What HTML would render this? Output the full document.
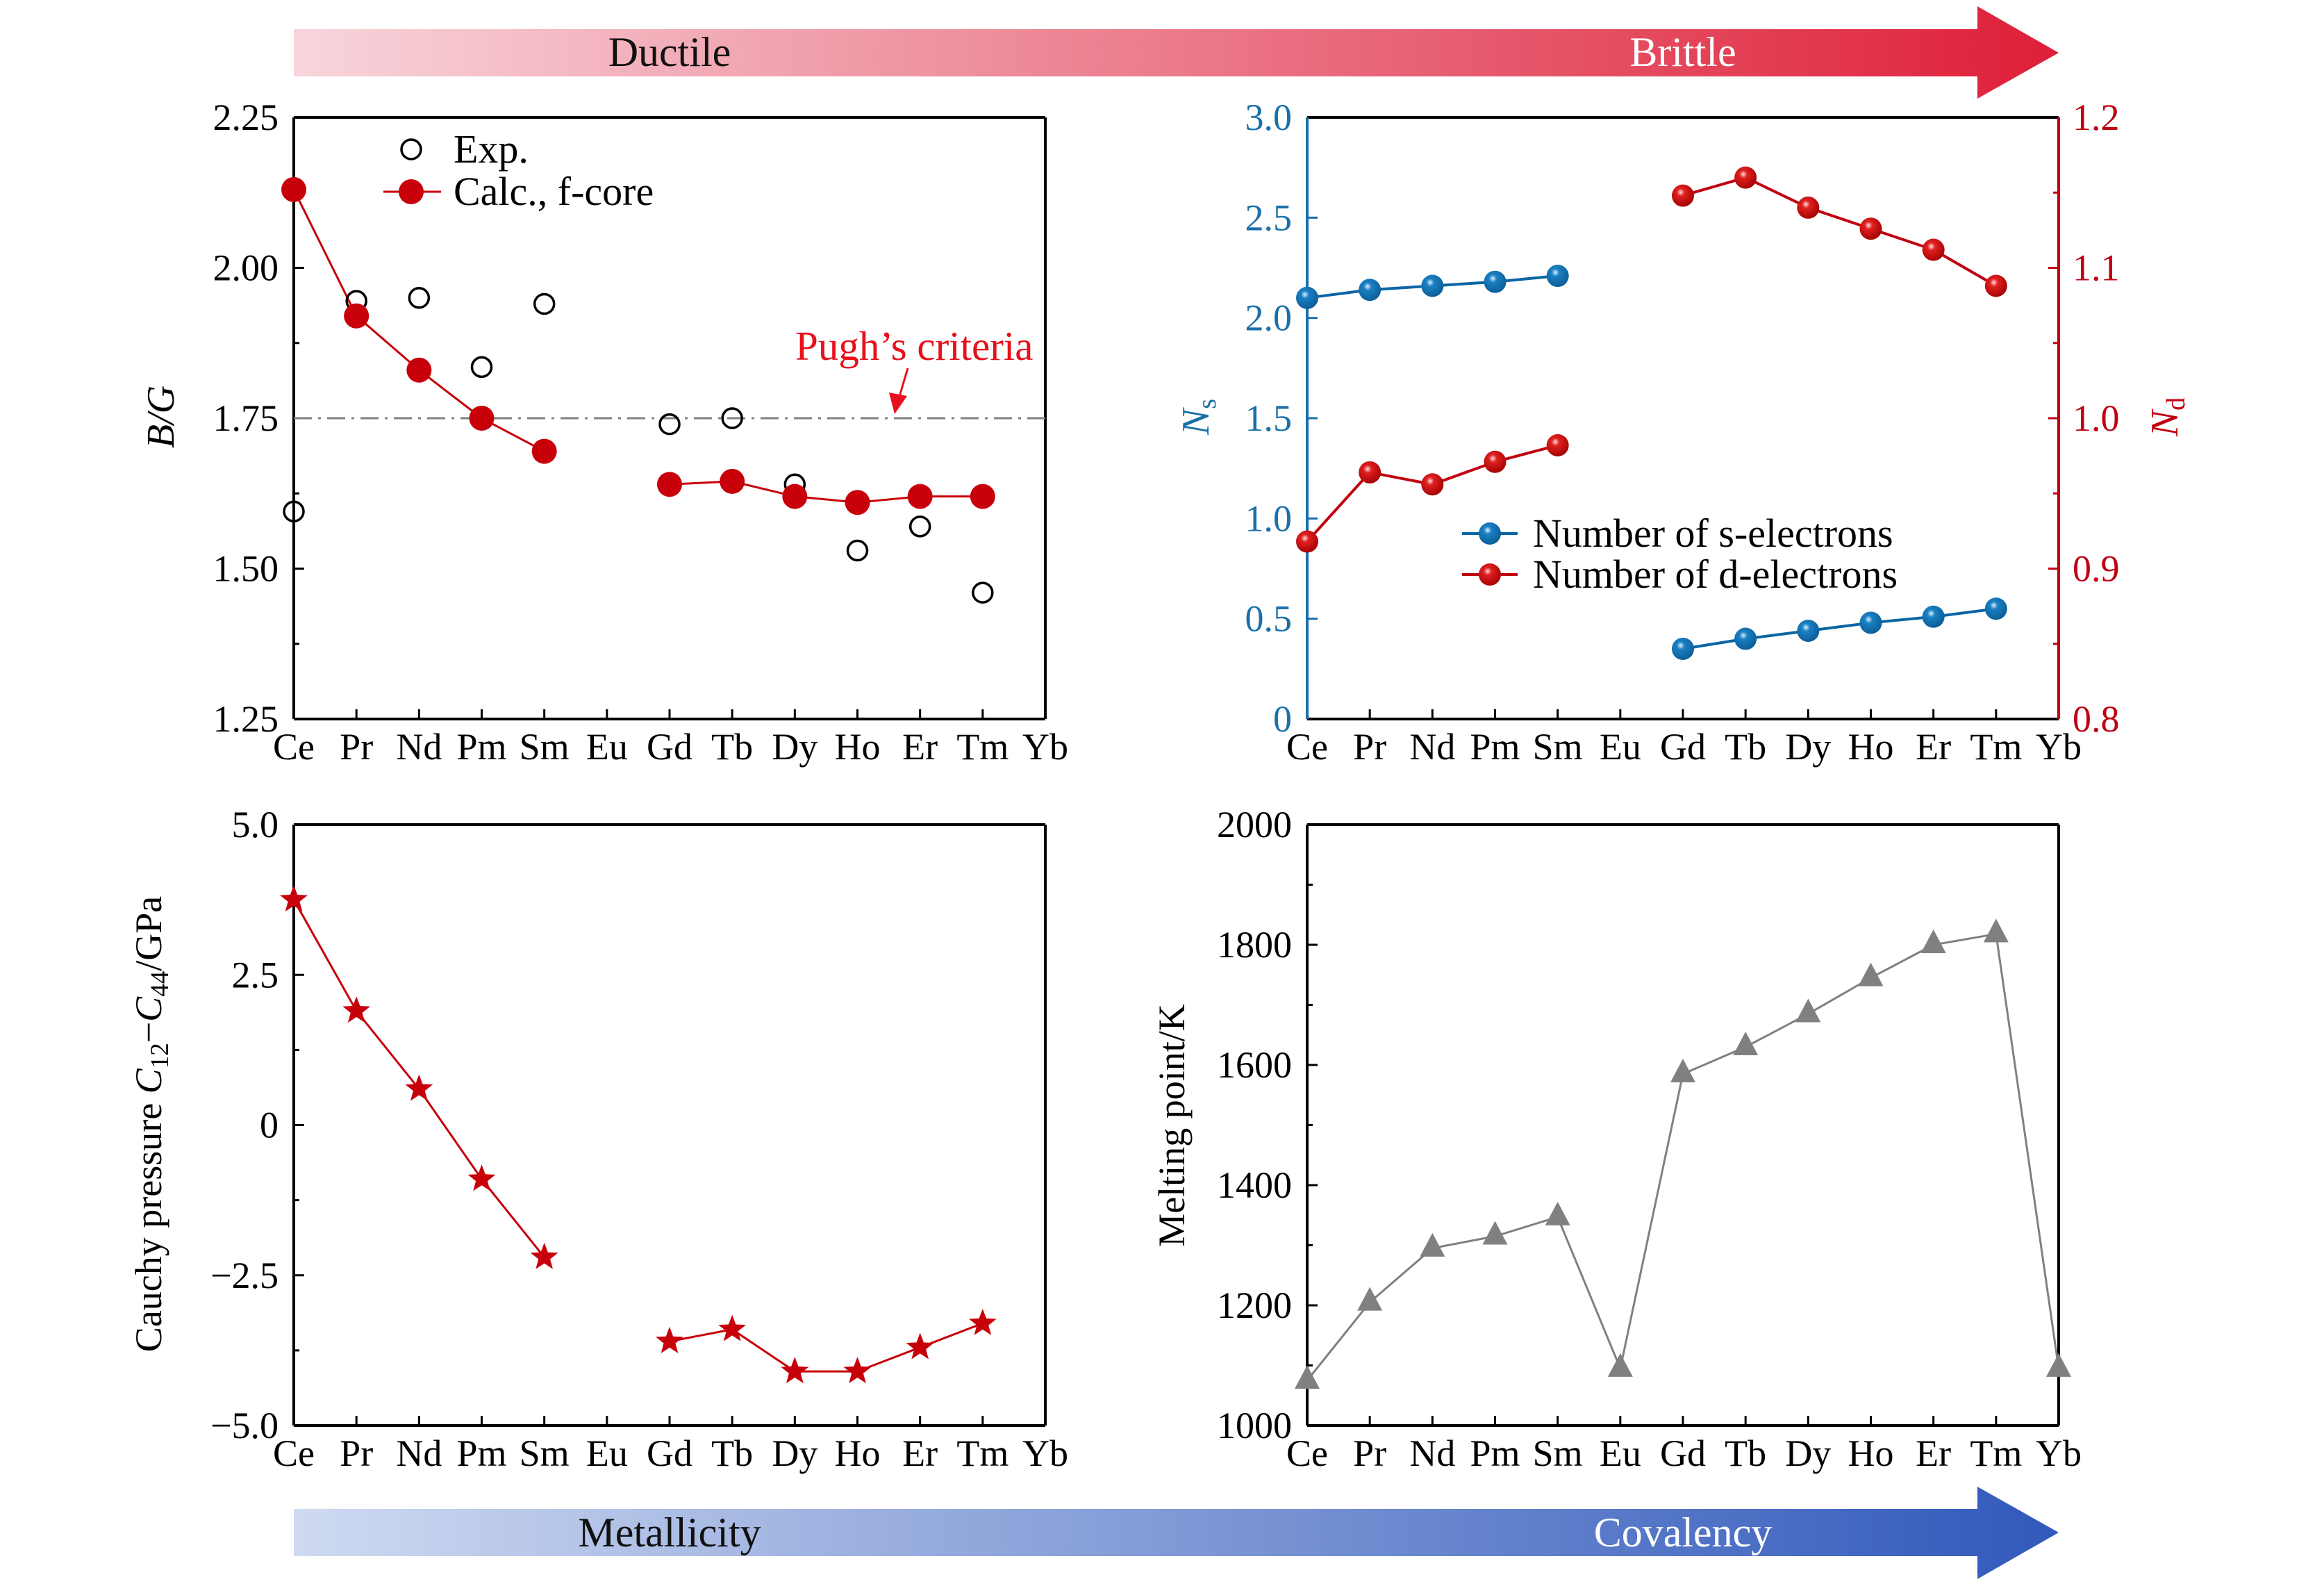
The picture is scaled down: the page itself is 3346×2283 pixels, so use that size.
<!DOCTYPE html>
<html><head><meta charset="utf-8"><style>
html,body{margin:0;padding:0;background:#fff;overflow:hidden}
svg text{font-family:"Liberation Serif",serif}
</style></head><body>
<svg id="fig" width="3346" height="2283" viewBox="0 0 3346 2283" xmlns="http://www.w3.org/2000/svg" style="display:block">
<defs>
<linearGradient id="gTop" x1="0" x2="1" y1="0" y2="0"><stop offset="0" stop-color="#f8d5dc"/><stop offset="1" stop-color="#de1f38"/></linearGradient>
<linearGradient id="gBot" x1="0" x2="1" y1="0" y2="0"><stop offset="0" stop-color="#cfdaf1"/><stop offset="1" stop-color="#3159bb"/></linearGradient>
<radialGradient id="sphRed" cx="0.4" cy="0.35" r="0.7"><stop offset="0" stop-color="#ffe0e0"/><stop offset="0.25" stop-color="#e02020"/><stop offset="1" stop-color="#a00000"/></radialGradient>
<radialGradient id="sphBlue" cx="0.4" cy="0.35" r="0.7"><stop offset="0" stop-color="#dff0ff"/><stop offset="0.25" stop-color="#1a80c4"/><stop offset="1" stop-color="#0a5a92"/></radialGradient>
</defs>
<g>
<polygon points="423,42 2847,42 2847,9 2964,76 2847,142 2847,110 423,110" fill="url(#gTop)"/>
<text x="964" y="95" font-size="60" text-anchor="middle" fill="#111">Ductile</text>
<text x="2423" y="95" font-size="60" text-anchor="middle" fill="#fff">Brittle</text>
</g>
<g>
<polygon points="423,2172 2847,2172 2847,2140 2964,2206 2847,2273 2847,2240 423,2240" fill="url(#gBot)"/>
<text x="964" y="2226" font-size="60" text-anchor="middle" fill="#111">Metallicity</text>
<text x="2423" y="2226" font-size="60" text-anchor="middle" fill="#fff">Covalency</text>
</g>
</svg>
<script>
const categories=["Ce","Pr","Nd","Pm","Sm","Eu","Gd","Tb","Dy","Ho","Er","Tm","Yb"];
const bgCalc=[2.13,1.92,1.83,1.75,1.695,null,1.64,1.645,1.62,1.61,1.62,1.62,null];
const bgExp=[1.595,1.945,1.95,1.835,1.94,null,1.74,1.75,1.64,1.53,1.57,1.46,null];
const bgTicks=[1.25,1.50,1.75,2.00,2.25];
const nsValues=[2.10,2.14,2.16,2.18,2.21,null,0.35,0.40,0.44,0.48,0.51,0.55,null];
const ndValues=[0.918,0.964,0.956,0.971,0.982,null,1.148,1.160,1.140,1.126,1.112,1.088,null];
const nsTicks=[0,0.5,1.0,1.5,2.0,2.5,3.0];
const ndTicks=[0.8,0.9,1.0,1.1,1.2];
const cauchyValues=[3.75,1.9,0.6,-0.9,-2.2,null,-3.6,-3.4,-4.1,-4.1,-3.7,-3.3,null];
const cauchyTicks=[-5.0,-2.5,0,2.5,5.0];
const meltValues=[1075,1205,1295,1315,1347,1095,1585,1630,1685,1745,1800,1818,1095];
const meltTicks=[1000,1200,1400,1600,1800,2000];
const pughValue=1.75;

const NS="http://www.w3.org/2000/svg";
const svg=document.getElementById('fig');
function mk(tag,attrs,parent){const e=document.createElementNS(NS,tag);for(const k in attrs)e.setAttribute(k,attrs[k]);(parent||svg).appendChild(e);return e;}
function fmt(v,d){if(v===0)return "0";let s=Math.abs(v).toFixed(d);return (v<0?"\u2212":"")+s;}

function panel(name,x0,y0,w,h,ymin,ymax){
  const g=mk('g',{});
  
  
  const sx=i=>x0+i*w/(categories.length-1);
  const sy=v=>y0+h-(v-ymin)/(ymax-ymin)*h;
  return {g,sx,sy,x0,y0,w,h};
}
function frame(p,leftColor,rightColor){
  mk('line',{x1:p.x0,y1:p.y0,x2:p.x0+p.w,y2:p.y0,stroke:'#000','stroke-width':4},p.g);
  mk('line',{x1:p.x0,y1:p.y0+p.h,x2:p.x0+p.w,y2:p.y0+p.h,stroke:'#000','stroke-width':4},p.g);
  mk('line',{x1:p.x0,y1:p.y0,x2:p.x0,y2:p.y0+p.h,stroke:leftColor,'stroke-width':4},p.g);
  mk('line',{x1:p.x0+p.w,y1:p.y0,x2:p.x0+p.w,y2:p.y0+p.h,stroke:rightColor,'stroke-width':4},p.g);
  categories.forEach((c,i)=>{
    const x=p.sx(i);
    if(i>0&&i<categories.length-1){const t=mk('line',{x1:x,y1:p.y0+p.h,x2:x,y2:p.y0+p.h-14,stroke:'#000','stroke-width':3},p.g);
    
    }
    const tx=mk('text',{x:x,y:p.y0+p.h+58,'font-size':54,'text-anchor':'middle',fill:'#000'},p.g);
    tx.textContent=c;
    
    
  });
}
function yaxis(p,ticks,scale,dec,side,color,minor){
  const xa=side==='left'?p.x0:p.x0+p.w;
  const dir=side==='left'?1:-1;
  ticks.forEach((v,k)=>{
    const y=scale(v);
    if(k>0&&k<ticks.length-1){const t=mk('line',{x1:xa,y1:y,x2:xa+dir*15,y2:y,stroke:color,'stroke-width':3},p.g);
    
    }
    if(minor&&k<ticks.length-1){const ym=scale((v+ticks[k+1])/2);mk('line',{x1:xa,y1:ym,x2:xa+dir*8,y2:ym,stroke:color,'stroke-width':3},p.g);}
    const tx=mk('text',{x:side==='left'?xa-22:xa+20,y:y+18,'font-size':54,'text-anchor':side==='left'?'end':'start',fill:color},p.g);
    tx.textContent=fmt(v,dec);
    
    
  });
}
function series(p,vals,scale,color,width,name){
  let seg=[];const segs=[];
  vals.forEach((v,i)=>{if(v===null){if(seg.length)segs.push(seg);seg=[];}else seg.push(p.sx(i)+','+scale(v));});
  if(seg.length)segs.push(seg);
  segs.forEach(s=>{const l=mk('polyline',{points:s.join(' '),fill:'none',stroke:color,'stroke-width':width},p.g);
    
    });
}
function starPts(cx,cy,R){const r=R*0.42;let a=[];for(let k=0;k<10;k++){const ang=-Math.PI/2+k*Math.PI/5;const rr=k%2?r:R;a.push((cx+rr*Math.cos(ang)).toFixed(1)+','+(cy+rr*Math.sin(ang)).toFixed(1));}return a.join(' ');}

/* Panel 1: B/G */
const p1=panel('bg-ratio-panel',423,169,1082,866,1.25,2.25);
frame(p1,'#000','#000');
yaxis(p1,bgTicks,p1.sy,2,'left','#000',true);
const pl=mk('line',{x1:423,y1:p1.sy(pughValue),x2:1505,y2:p1.sy(pughValue),stroke:'#808080','stroke-width':3,'stroke-dasharray':'26,9,4,9'},p1.g);


series(p1,bgCalc,p1.sy,'#c8000a',3,'calc-f-core');
bgExp.forEach((v,i)=>{if(v===null)return;const c=mk('circle',{cx:p1.sx(i),cy:p1.sy(v),r:14,fill:'none',stroke:'#000','stroke-width':3.5},p1.g);
  
  });
bgCalc.forEach((v,i)=>{if(v===null)return;const c=mk('circle',{cx:p1.sx(i),cy:p1.sy(v),r:18,fill:'#c8000a'},p1.g);
  
  });
const lg1=mk('g',{});


mk('circle',{cx:592,cy:215,r:14,fill:'none',stroke:'#000','stroke-width':3.5},lg1);
mk('text',{x:653,y:234,'font-size':58,fill:'#000'},lg1).textContent='Exp.';
mk('line',{x1:552,y1:276,x2:635,y2:276,stroke:'#c8000a','stroke-width':3},lg1);
mk('circle',{cx:592,cy:276,r:18,fill:'#c8000a'},lg1);
mk('text',{x:653,y:295,'font-size':58,fill:'#000'},lg1).textContent='Calc., f-core';
const pt=mk('text',{x:1145,y:518,'font-size':59,fill:'#e8101a'});
pt.textContent='Pugh\u2019s criteria';


mk('line',{x1:1307,y1:530,x2:1294,y2:574,stroke:'#e8101a','stroke-width':3});
mk('polygon',{points:'1288,596 1280,565 1306,570',fill:'#e8101a'});
const l1=mk('text',{x:250,y:600,'font-size':56,'text-anchor':'middle','font-style':'italic',transform:'rotate(-90 250 600)'});
l1.textContent='B/G';



/* Panel 2: Ns / Nd */
const p2=panel('electron-number-panel',1882,169,1082,866,0,3);
const syR=v=>p2.y0+p2.h-(v-0.8)/0.4*p2.h;
frame(p2,'#1a6faa','#c00010');
yaxis(p2,nsTicks,p2.sy,1,'left','#1a6faa',false);
yaxis(p2,ndTicks,syR,1,'right','#c00010',true);
series(p2,nsValues,p2.sy,'#0a65a5',4,'s-electrons');
series(p2,ndValues,syR,'#c00010',4,'d-electrons');
nsValues.forEach((v,i)=>{if(v===null)return;const c=mk('circle',{cx:p2.sx(i),cy:p2.sy(v),r:16,fill:'url(#sphBlue)'},p2.g);
  
  });
ndValues.forEach((v,i)=>{if(v===null)return;const c=mk('circle',{cx:p2.sx(i),cy:syR(v),r:16,fill:'url(#sphRed)'},p2.g);
  
  });
const lg2=mk('g',{});


mk('line',{x1:2105,y1:768,x2:2185,y2:768,stroke:'#0a65a5','stroke-width':4},lg2);
mk('circle',{cx:2145,cy:768,r:16,fill:'url(#sphBlue)'},lg2);
mk('text',{x:2207,y:787,'font-size':58,fill:'#000'},lg2).textContent='Number of s-electrons';
mk('line',{x1:2105,y1:827,x2:2185,y2:827,stroke:'#c00010','stroke-width':4},lg2);
mk('circle',{cx:2145,cy:827,r:16,fill:'url(#sphRed)'},lg2);
mk('text',{x:2207,y:846,'font-size':58,fill:'#000'},lg2).textContent='Number of d-electrons';
const l2=mk('text',{x:1740,y:600,'font-size':56,'text-anchor':'middle',fill:'#1a6faa',transform:'rotate(-90 1740 600)'});
l2.innerHTML='<tspan font-style="italic">N</tspan><tspan font-size="38" dy="10">s</tspan>';


const l3=mk('text',{x:3135,y:600,'font-size':56,'text-anchor':'middle',fill:'#c00010',transform:'rotate(-90 3135 600)'});
l3.innerHTML='<tspan font-style="italic">N</tspan><tspan font-size="38" dy="10">d</tspan>';



/* Panel 3: Cauchy */
const p3=panel('cauchy-pressure-panel',423,1187,1082,865,-5,5);
frame(p3,'#000','#000');
yaxis(p3,cauchyTicks,p3.sy,1,'left','#000',true);
series(p3,cauchyValues,p3.sy,'#c8000a',3,'cauchy');
cauchyValues.forEach((v,i)=>{if(v===null)return;const s=mk('polygon',{points:starPts(p3.sx(i),p3.sy(v),21),fill:'#c8000a'},p3.g);
  
  });
const l4=mk('text',{x:232,y:1618,'font-size':54,'text-anchor':'middle',transform:'rotate(-90 232 1618)'});
l4.innerHTML='Cauchy pressure <tspan font-style="italic">C</tspan><tspan font-size="37" dy="10">12</tspan><tspan dy="-10">\u2212</tspan><tspan font-style="italic">C</tspan><tspan font-size="37" dy="10">44</tspan><tspan dy="-10">/GPa</tspan>';



/* Panel 4: Melting point */
const p4=panel('melting-point-panel',1882,1187,1082,865,1000,2000);
frame(p4,'#000','#000');
yaxis(p4,meltTicks,p4.sy,0,'left','#000',true);
series(p4,meltValues,p4.sy,'#808080',3,'melting-point');
meltValues.forEach((v,i)=>{const x=p4.sx(i),y=p4.sy(v);const t=mk('polygon',{points:`${x},${y-22} ${x+18},${y+12} ${x-18},${y+12}`,fill:'#808080'},p4.g);
  
  });
const l5=mk('text',{x:1705,y:1620,'font-size':54,'text-anchor':'middle',transform:'rotate(-90 1705 1620)'});
l5.textContent='Melting point/K';


</script>
</body></html>
